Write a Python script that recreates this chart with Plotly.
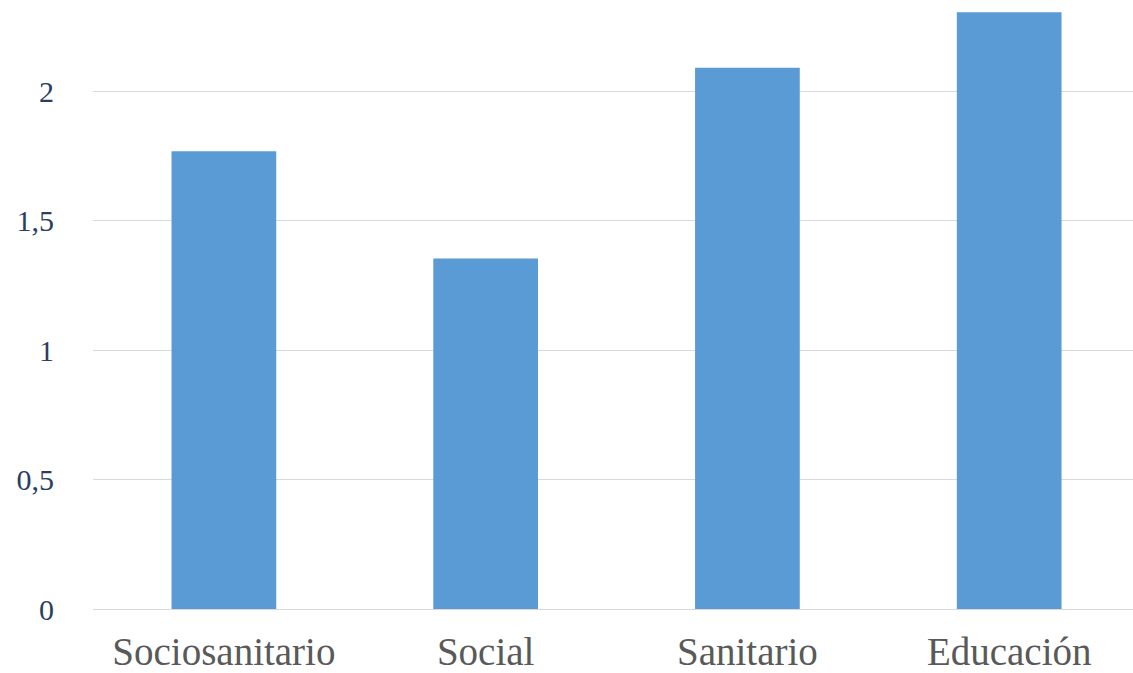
import plotly.graph_objects as go

categories = ["Sociosanitario", "Social", "Sanitario", "Educación"]
values = [1.769, 1.354, 2.091, 2.306]
y_tickvals = [0, 0.5, 1, 1.5, 2]
y_ticktext = ["0", "0,5", "1", "1,5", "2"]

FONT = "Liberation Serif"

fig = go.Figure(
    go.Bar(
        x=categories,
        y=values,
        marker=dict(color="#5B9BD5", line=dict(width=0)),
        width=0.4,
    )
)

fig.update_layout(
    width=1133,
    height=673,
    margin=dict(l=93, r=0, t=0, b=62),
    paper_bgcolor="white",
    plot_bgcolor="white",
    showlegend=False,
    font=dict(family=FONT, size=30),
)

fig.update_xaxes(
    range=[-0.5, 3.473],
    showgrid=False,
    showline=True,
    linecolor="#D9D9D9",
    linewidth=1,
    ticks="outside",
    ticklen=8,
    tickcolor="rgba(0,0,0,0)",
    tickfont=dict(size=39, color="#595959"),
)

fig.update_yaxes(
    range=[0, 2.353],
    tickvals=y_tickvals,
    ticktext=y_ticktext,
    showgrid=True,
    gridcolor="#D9D9D9",
    gridwidth=1,
    zeroline=False,
    showline=False,
    ticks="outside",
    ticklen=32,
    tickcolor="rgba(0,0,0,0)",
    tickfont=dict(size=30),
)

fig.write_html("out.html")
